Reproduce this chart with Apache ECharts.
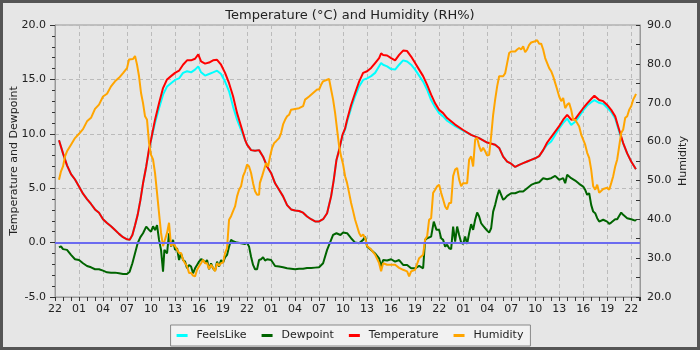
<!DOCTYPE html>
<html>
<head>
<meta charset="utf-8">
<script src="https://cdn.jsdelivr.net/npm/echarts@6/dist/echarts.min.js"></script>
<style>
  html, body { margin: 0; padding: 0; background: #e6e6e6; }
  #chart { width: 700px; height: 350px; }
</style>
</head>
<body>
<div id="chart"></div>
<script>
// Hour of day at the left edge of the time axis; x values are hours since then.
const startHour = 22;

// Air temperature (°C): [hours since start, value]
const temperature = [
  [0.5,9.4],[1,8.2],[1.5,7.1],[2,6.3],[2.5,5.8],[3,5.15],[3.5,4.5],[4,4.0],[4.5,3.55],[5,3.05],
  [5.5,2.75],[6,2.15],[6.5,1.8],[7,1.5],[7.5,1.15],[8,0.8],[8.5,0.5],[9,0.3],[9.33,0.25],[9.67,0.7],
  [10,1.6],[10.33,2.55],[10.67,3.9],[11,5.45],[11.4,7.0],[11.75,8.6],[12,9.45],[12.5,11.3],[13,12.8],[13.5,14.2],
  [14,15.0],[14.5,15.3],[15,15.6],[15.5,15.8],[16,16.35],[16.5,16.75],[17,16.75],[17.5,16.9],[17.9,17.3],[18.25,16.65],
  [18.75,16.45],[19.25,16.55],[19.75,16.75],[20.25,16.8],[20.75,16.35],[21.25,15.6],[21.75,14.65],[22.25,13.45],[22.75,11.9],[23.25,10.7],
  [23.75,9.45],[24,9.0],[24.5,8.5],[25,8.45],[25.5,8.5],[26,7.9],[26.5,7.0],[27,6.4],[27.5,5.45],[28,4.85],
  [28.5,4.25],[29,3.45],[29.5,3.05],[30,2.95],[30.5,2.9],[31,2.75],[31.5,2.4],[32,2.15],[32.5,1.95],[33,1.95],
  [33.5,2.15],[34,2.7],[34.5,4.25],[34.83,5.75],[35.17,7.6],[35.5,8.5],[35.92,9.9],[36.25,10.5],[36.5,11.3],[37,12.65],
  [37.5,13.75],[38,14.8],[38.5,15.6],[39,15.75],[39.5,16.05],[40,16.5],[40.5,16.95],[40.75,17.4],[41,17.25],[41.5,17.2],
  [42,16.95],[42.5,16.75],[43,17.25],[43.5,17.65],[44,17.6],[44.5,17.1],[45,16.5],[45.5,15.9],[46,15.3],[46.5,14.5],
  [47,13.6],[47.5,12.8],[48,12.2],[48.5,11.9],[49,11.45],[50,10.85],[51,10.35],[52,9.9],[53,9.6],[54,9.2],
  [55,9.0],[55.5,8.7],[56,7.9],[56.5,7.45],[57,7.25],[57.5,6.95],[58,7.15],[58.5,7.3],[59,7.45],[59.5,7.6],
  [60,7.75],[60.5,7.95],[61,8.5],[61.5,9.2],[62,9.7],[62.5,10.2],[63,10.7],[63.5,11.3],[64,11.75],[64.5,11.3],
  [65,11.35],[65.5,11.85],[66,12.35],[66.5,12.8],[67,13.2],[67.4,13.5],[68,13.1],[68.5,13.0],[69,12.65],[69.5,12.2],
  [70,11.6],[70.5,10.35],[71,9.15],[71.5,8.2],[72,7.45],[72.5,6.85],[72.6,6.75]
];

// Apparent ("feels like") temperature (°C)
const feelsLike = [
  [0.5,9.4],[1,8.2],[1.5,7.1],[2,6.3],[2.5,5.8],[3,5.15],[3.5,4.5],[4,4.0],[4.5,3.55],[5,3.05],
  [5.5,2.75],[6,2.15],[6.5,1.8],[7,1.5],[7.5,1.15],[8,0.8],[8.5,0.5],[9,0.3],[9.33,0.25],[9.67,0.7],
  [10,1.6],[10.33,2.55],[10.67,3.9],[11,5.45],[11.4,7.0],[11.75,8.5],[12,9.4],[12.5,11.0],[13,12.35],[13.5,13.6],
  [14,14.35],[14.5,14.65],[15,14.95],[15.5,15.1],[16,15.6],[16.5,15.75],[17,15.65],[17.5,15.9],[17.9,16.2],[18.25,15.65],
  [18.75,15.35],[19.25,15.5],[19.75,15.65],[20.25,15.8],[20.75,15.5],[21.25,14.8],[21.75,13.9],[22.25,12.5],[22.75,11.3],[23.25,10.35],
  [23.75,9.45],[24,9.0],[24.5,8.5],[25,8.45],[25.5,8.5],[26,7.9],[26.5,7.0],[27,6.4],[27.5,5.45],[28,4.85],
  [28.5,4.25],[29,3.45],[29.5,3.05],[30,2.95],[30.5,2.9],[31,2.75],[31.5,2.4],[32,2.15],[32.5,1.95],[33,1.95],
  [33.5,2.15],[34,2.7],[34.5,4.25],[34.83,5.75],[35.17,7.6],[35.5,8.5],[35.92,9.8],[36.25,10.4],[36.5,11.1],[37,12.35],
  [37.5,13.45],[38,14.35],[38.5,14.95],[39,15.1],[39.5,15.3],[40,15.6],[40.5,16.2],[40.75,16.5],[41,16.35],[41.5,16.2],
  [42,15.95],[42.5,15.9],[43,16.35],[43.5,16.75],[44,16.65],[44.5,16.35],[45,15.9],[45.5,15.35],[46,14.8],[46.5,14.05],
  [47,13.1],[47.5,12.45],[48,11.9],[48.5,11.6],[49,11.2],[50,10.7],[51,10.3],[52,9.9],[53,9.6],[54,9.2],
  [55,9.0],[55.5,8.7],[56,7.9],[56.5,7.45],[57,7.25],[57.5,6.95],[58,7.15],[58.5,7.3],[59,7.45],[59.5,7.6],
  [60,7.75],[60.5,7.95],[61,8.5],[61.5,9.0],[62,9.3],[62.5,9.9],[63,10.5],[63.5,11.0],[64,11.4],[64.5,10.8],
  [65,11.1],[65.5,11.6],[66,12.15],[66.5,12.6],[67,12.9],[67.4,13.1],[68,12.85],[68.5,12.75],[69,12.4],[69.5,12.0],
  [70,11.4],[70.5,10.2],[71,9.1],[71.5,8.2],[72,7.45],[72.5,6.85],[72.6,6.75]
];

// Dew point (°C)
const dewpoint = [
  [0.5,-0.45],[0.75,-0.35],[1,-0.6],[1.5,-0.67],[2,-1.13],[2.5,-1.53],[3,-1.6],[3.5,-1.9],[4,-2.15],[4.5,-2.27],
  [5,-2.45],[5.5,-2.45],[6,-2.58],[6.5,-2.73],[7,-2.76],[7.5,-2.76],[8,-2.82],[8.5,-2.88],[9,-2.88],[9.33,-2.67],
  [9.67,-1.9],[10,-0.98],[10.33,-0.06],[10.67,0.5],[11,0.86],[11.4,1.47],[11.75,1.17],[12,1.0],[12.25,1.5],[12.5,1.15],
  [12.75,1.6],[13,0.25],[13.25,-0.67],[13.5,-2.67],[13.67,-0.67],[14,-1.0],[14.25,0.85],[14.5,-0.37],[14.75,0.25],[15,-0.67],
  [15.25,-0.52],[15.5,-1.6],[15.75,-1.0],[16,-1.6],[16.25,-1.75],[16.5,-2.36],[16.75,-2.05],[17,-2.2],[17.25,-2.82],[17.5,-2.36],
  [17.75,-2.05],[18,-1.75],[18.25,-1.53],[18.5,-1.6],[18.75,-1.84],[19,-1.6],[19.25,-2.45],[19.5,-1.9],[19.75,-2.36],[20,-2.58],
  [20.25,-1.75],[20.5,-2.2],[20.75,-1.6],[21,-1.84],[21.25,-1.35],[21.5,-1.13],[21.75,-0.37],[22,0.25],[22.25,0.12],[22.75,0.0],
  [23.25,-0.06],[23.75,-0.12],[24,0.0],[24.25,-0.37],[24.5,-1.3],[24.75,-2.05],[25,-2.45],[25.25,-2.45],[25.5,-1.6],[25.75,-1.53],
  [26,-1.35],[26.25,-1.65],[26.5,-1.53],[27,-1.6],[27.5,-2.15],[28,-2.2],[28.5,-2.27],[29,-2.36],[29.5,-2.4],[30,-2.45],
  [30.5,-2.4],[31,-2.4],[31.5,-2.33],[32,-2.33],[32.5,-2.3],[33,-2.27],[33.5,-1.9],[34,-0.67],[34.5,0.25],[34.75,0.7],
  [35.17,0.86],[35.67,0.7],[36,0.92],[36.5,0.86],[37,0.4],[37.5,0.0],[38,-0.06],[38.5,0.25],[38.75,0.55],[39,-0.37],
  [39.5,-0.67],[40,-1.0],[40.5,-1.44],[40.75,-2.2],[41,-1.6],[41.5,-1.65],[42,-1.53],[42.5,-1.75],[43,-1.6],[43.5,-2.05],
  [44,-2.05],[44.5,-2.36],[45,-2.36],[45.5,-2.15],[46,-2.36],[46.25,0.25],[46.5,0.4],[47,0.55],[47.33,1.93],[47.67,1.17],
  [48,1.17],[48.25,0.4],[48.5,0.25],[48.75,-0.37],[49,-0.2],[49.25,-0.52],[49.5,-0.6],[49.75,1.47],[50,0.1],[50.25,1.47],
  [50.5,0.7],[50.75,0.0],[51,-0.12],[51.25,0.55],[51.5,-0.12],[51.75,0.86],[52,1.7],[52.25,1.17],[52.5,2.1],[52.75,2.76],
  [53,2.4],[53.25,1.78],[53.5,1.53],[53.75,1.32],[54,1.1],[54.25,0.92],[54.5,1.32],[54.75,2.85],[55,3.47],[55.25,4.23],
  [55.5,4.85],[55.75,4.39],[56,3.93],[56.25,4.08],[56.5,4.29],[57,4.54],[57.5,4.54],[58,4.69],[58.5,4.69],[59,5.0],
  [59.5,5.3],[60,5.46],[60.5,5.55],[61,5.92],[61.5,5.83],[62,5.92],[62.5,6.13],[63,5.77],[63.5,5.92],[63.75,5.46],
  [64,6.23],[64.5,5.92],[65,5.7],[65.5,5.4],[66,5.15],[66.25,4.85],[66.5,4.39],[66.75,4.54],[67,3.47],[67.25,2.85],
  [67.5,2.7],[67.75,2.24],[68,1.93],[68.5,2.1],[69,1.93],[69.25,1.72],[69.5,1.84],[70,2.15],[70.25,2.15],[70.75,2.76],
  [71,2.55],[71.5,2.24],[72,2.15],[72.5,2.02],[72.6,2.1]
];

// Relative humidity (%)
const humidity = [
  [0.5,50.2],[0.75,52.35],[1,53.6],[1.25,56.2],[1.5,57.5],[2,59.2],[2.5,60.9],[3,62.0],[3.5,63.2],[4,65.2],
  [4.5,66.1],[5,68.4],[5.5,69.5],[6,71.6],[6.5,72.3],[7,74.2],[7.5,75.5],[8,76.4],[8.5,77.6],[9,78.9],
  [9.25,81.1],[9.75,81.25],[10,82.0],[10.25,79.8],[10.5,76.8],[10.75,72.5],[11,69.9],[11.25,66.5],[11.5,65.6],[11.75,59.6],
  [12,56.6],[12.25,55.4],[12.5,51.9],[12.75,46.8],[13,41.6],[13.25,36.5],[13.5,33.1],[13.75,34.8],[14,36.5],[14.25,39.1],
  [14.5,33.1],[14.75,33.9],[15,33.1],[15.25,32.2],[15.5,31.3],[15.75,31.3],[16,29.6],[16.25,28.7],[16.5,27.9],[16.75,26.2],
  [17,26.2],[17.25,25.5],[17.5,25.3],[17.75,27.0],[18,27.9],[18.25,28.7],[18.5,29.6],[18.75,28.7],[19,28.7],[19.25,27.2],
  [19.5,28.3],[19.75,27.5],[20,26.6],[20.25,28.7],[20.5,28.1],[20.75,28.7],[21,28.9],[21.25,31.3],[21.5,32.6],[21.75,39.9],
  [22,40.8],[22.25,42.1],[22.5,43.3],[22.75,45.9],[23,47.6],[23.25,48.5],[23.5,51.1],[23.75,52.35],[24,54.1],[24.25,53.6],
  [24.5,51.9],[24.75,49.3],[25,47.2],[25.25,46.3],[25.5,46.3],[25.6,49.3],[25.88,51.1],[26.13,52.8],[26.38,54.5],[26.63,53.6],
  [26.88,56.2],[27.13,58.4],[27.38,59.6],[27.63,60.1],[28,60.9],[28.25,62.2],[28.5,64.4],[28.75,65.6],[29,66.5],[29.25,66.9],
  [29.5,68.2],[30,68.4],[30.5,68.6],[31,69.1],[31.25,70.8],[31.75,71.6],[32.25,72.5],[32.75,73.4],[33,73.4],[33.25,74.6],
  [33.5,75.5],[34,75.9],[34.25,76.1],[34.5,73.4],[34.75,70.8],[35,67.4],[35.25,63.1],[35.5,58.8],[35.75,56.2],[36,54.1],
  [36.25,51.1],[36.5,49.3],[36.75,46.8],[37,44.2],[37.25,42.1],[37.5,39.9],[37.75,38.2],[38,36.5],[38.25,35.6],[38.5,36.1],
  [38.75,35.2],[39,33.1],[39.5,32.2],[40,30.9],[40.5,28.7],[40.75,26.6],[41,28.7],[41.5,28.3],[42,28.3],[42.5,28.3],
  [43,27.5],[43.5,27.0],[44,26.6],[44.25,25.3],[44.5,26.6],[45,27.0],[45.5,30.0],[46,30.9],[46.25,34.8],[46.5,35.6],
  [46.75,39.9],[47,40.3],[47.25,46.8],[47.5,47.6],[47.75,48.5],[48,48.9],[48.25,46.8],[48.5,45.1],[48.75,43.3],[49,42.5],
  [49.25,44.2],[49.5,44.2],[49.75,51.1],[50,52.8],[50.25,53.2],[50.5,50.2],[50.75,48.5],[51,49.3],[51.25,49.3],[51.5,49.3],
  [51.75,55.4],[52,56.2],[52.25,53.6],[52.5,60.5],[52.75,60.9],[53,58.8],[53.25,57.5],[53.5,58.4],[53.75,57.5],[54,56.4],
  [54.25,56.6],[54.5,61.4],[54.75,66.9],[55,70.8],[55.25,74.2],[55.5,76.8],[56,76.8],[56.25,77.6],[56.5,80.2],[56.75,82.8],
  [57,83.2],[57.5,83.2],[57.75,83.7],[58,84.1],[58.25,83.7],[58.5,84.5],[58.75,83.0],[59,83.7],[59.25,84.9],[59.5,85.5],
  [60,85.8],[60.25,86.1],[60.5,85.2],[60.75,85.2],[61,83.7],[61.25,81.5],[61.5,80.2],[61.75,78.9],[62,78.1],[62.25,76.8],
  [62.5,75.1],[62.75,73.4],[63,71.6],[63.25,70.4],[63.5,71.2],[63.75,68.6],[64,69.5],[64.25,69.9],[64.5,68.2],[64.75,65.6],
  [65,65.6],[65.25,64.8],[65.5,63.9],[65.75,61.8],[66,60.5],[66.25,59.2],[66.5,57.1],[66.75,55.8],[67,52.8],[67.25,48.5],
  [67.5,47.6],[67.75,48.9],[68,46.8],[68.5,47.8],[69,48.1],[69.25,47.6],[69.5,49.3],[69.75,51.1],[70,53.6],[70.25,55.4],
  [70.5,58.8],[70.75,62.2],[71,63.1],[71.25,66.1],[71.5,66.5],[71.75,68.2],[72,69.1],[72.25,70.8],[72.5,71.8],[72.6,72.3]
];

const seriesNames = ['FeelsLike', 'Dewpoint', 'Temperature', 'Humidity'];
const seriesColors = ['#00ffff', '#006400', '#ff0000', '#ffa500'];

const FONT = 'DejaVu Sans';
const TEXT = '#222';

function hourLabel(v) {
  const h = (startHour + Math.round(v)) % 24;
  return (h < 10 ? '0' : '') + h;
}

function lineSeries(i, data, axisIndex, extra) {
  return Object.assign({
    name: seriesNames[i],
    type: 'line',
    yAxisIndex: axisIndex,
    data: data,
    showSymbol: false,
    symbol: 'none',
    sampling: null,
    lineStyle: { width: 2, color: seriesColors[i] },
    itemStyle: { color: seriesColors[i] },
    emphasis: { disabled: true }
  }, extra || {});
}

const chart = echarts.init(document.getElementById('chart'), null, { renderer: 'canvas' });

chart.setOption({
  animation: false,
  backgroundColor: '#e6e6e6',
  textStyle: { fontFamily: FONT },
  title: {
    text: 'Temperature (°C) and Humidity (RH%)',
    left: 'center',
    top: 4,
    textStyle: { fontFamily: FONT, fontSize: 13, fontWeight: 'normal', color: TEXT }
  },
  grid: {
    left: 55, right: 60, top: 25, bottom: 53,
    outerBoundsMode: 'none',
    containLabel: false,
    show: true, borderColor: '#999', borderWidth: 1, backgroundColor: 'transparent'
  },
  legend: {
    data: seriesNames,
    left: 'center',
    top: 325,
    icon: 'rect',
    itemWidth: 11,
    itemHeight: 3,
    itemGap: 15,
    padding: [5, 7, 5, 6],
    backgroundColor: '#f2f2f2',
    borderColor: '#888',
    borderWidth: 1,
    selectedMode: false,
    textStyle: { fontFamily: FONT, fontSize: 11, color: TEXT, padding: [0, 0, 0, 4] }
  },
  xAxis: {
    type: 'value',
    min: 0,
    max: 73.1,
    interval: 3,
    axisLine: { onZero: false, lineStyle: { color: '#999' } },
    axisTick: { length: 4, lineStyle: { color: '#333' } },
    minorTick: { show: true, splitNumber: 3, length: 4, lineStyle: { color: '#333' } },
    axisLabel: { fontFamily: FONT, fontSize: 11, color: TEXT, margin: 7, showMaxLabel: false, formatter: hourLabel },
    splitLine: { show: true, lineStyle: { color: '#bbb', type: [4, 3] } }
  },
  yAxis: [
    {
      type: 'value',
      position: 'left',
      min: -5, max: 20, interval: 5,
      name: 'Temperature and Dewpoint',
      nameLocation: 'middle',
      nameRotate: 90,
      nameGap: 35,
      nameMoveOverlap: false,
      nameTextStyle: { fontFamily: FONT, fontSize: 11, color: TEXT },
      axisLine: { show: true, onZero: false, lineStyle: { color: '#999' } },
      axisTick: { show: true, length: 5, lineStyle: { color: '#333' } },
      minorTick: { show: true, splitNumber: 5, length: 3, lineStyle: { color: '#333' } },
      axisLabel: { fontFamily: FONT, fontSize: 11, color: TEXT, margin: 9, formatter: v => v.toFixed(1) },
      splitLine: { show: true, lineStyle: { color: '#bbb', type: [4, 3] } }
    },
    {
      type: 'value',
      position: 'right',
      min: 20, max: 90, interval: 10,
      name: 'Humidity',
      nameLocation: 'middle',
      nameRotate: 90,
      nameGap: 38,
      nameMoveOverlap: false,
      nameTextStyle: { fontFamily: FONT, fontSize: 11, color: TEXT },
      axisLine: { show: true, onZero: false, lineStyle: { color: '#999' } },
      axisTick: { show: true, inside: true, length: 4, lineStyle: { color: '#333' } },
      minorTick: { show: true, splitNumber: 2, length: 4, lineStyle: { color: '#333' } },
      axisLabel: { fontFamily: FONT, fontSize: 11, color: TEXT, margin: 7, formatter: v => v.toFixed(1) },
      splitLine: { show: false }
    }
  ],
  graphic: [{
    type: 'rect',
    silent: true,
    z: 100,
    shape: { x: 1.5, y: 1.5, width: 697, height: 347 },
    style: { fill: null, stroke: '#555', lineWidth: 3 }
  }],
  series: [
    lineSeries(0, feelsLike, 0, {
      markLine: {
        silent: true,
        symbol: 'none',
        label: { show: false },
        lineStyle: { color: '#6b6bf0', width: 2, type: 'solid' },
        emphasis: { disabled: true },
        data: [{ yAxis: 0 }]
      }
    }),
    lineSeries(1, dewpoint, 0),
    lineSeries(2, temperature, 0),
    lineSeries(3, humidity, 1)
  ]
});
</script>
</body>
</html>
